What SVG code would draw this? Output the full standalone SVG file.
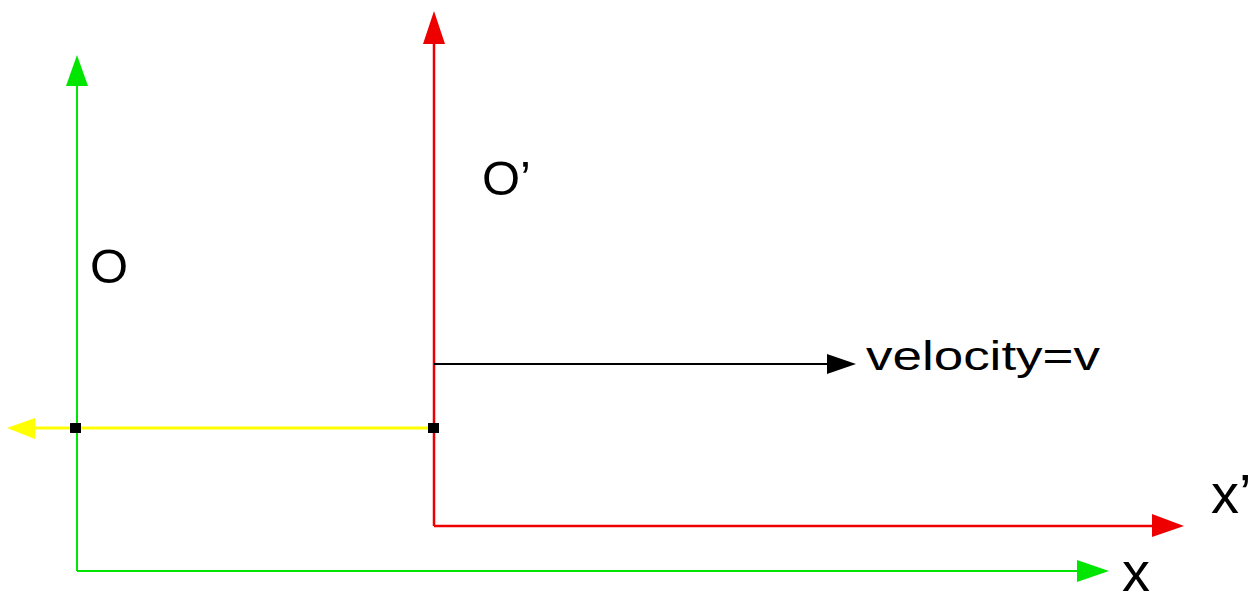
<svg xmlns="http://www.w3.org/2000/svg" width="1257" height="596" viewBox="0 0 1257 596">
<style>
.lbl{font-family:"Liberation Sans",Arial,sans-serif;fill:#000}
.g{stroke:#00e600;fill:none;stroke-width:2}
.r{stroke:#ee0000;fill:none;stroke-width:2.5}
.y{stroke:#ffff00;fill:none;stroke-width:3}
.k{stroke:#000;fill:none;stroke-width:2}
.gh{fill:#00e600}
.rh{fill:#ee0000}
.yh{fill:#ffff00}
.kh{fill:#000}
</style>
<rect width="1257" height="596" fill="#fff"/>
<g id="connectors">
<line class="g" x1="77" y1="571" x2="77" y2="86"/>
<polygon class="gh" points="66,86 77,55 88,86"/>
<line class="g" x1="77" y1="571" x2="1078" y2="571"/>
<polygon class="gh" points="1077,560 1109,571 1077,582"/>
<line class="r" x1="434" y1="526" x2="434" y2="44"/>
<polygon class="rh" points="423,44 434,11 445,44"/>
<line class="r" x1="434" y1="526" x2="1153" y2="526"/>
<polygon class="rh" points="1152,514 1184,526 1152,537"/>
<line class="y" x1="434" y1="428" x2="34" y2="428"/>
<polygon class="yh" points="35,418 7,428 35,439"/>
<line class="k" x1="434" y1="364" x2="828" y2="364"/>
<polygon class="kh" points="827,354 856,364 827,374"/>
</g>
<g id="origin-O">
<rect x="70" y="423" width="11" height="10" fill="#000"/>
<text class="lbl" x="90" y="283" font-size="49">O</text>
</g>
<g id="origin-O-prime">
<rect x="428" y="423" width="11" height="10" fill="#000"/>
<text class="lbl" x="482" y="195" font-size="49">O’</text>
</g>
<g id="velocity">
<text class="lbl" x="866" y="370" font-size="41" textLength="234" lengthAdjust="spacingAndGlyphs">velocity=v</text>
</g>
<g id="axis-x">
<text class="lbl" x="1122" y="591" font-size="56">x</text>
</g>
<g id="axis-x-prime">
<text class="lbl" x="1211" y="513" font-size="56">x’</text>
</g>
</svg>
